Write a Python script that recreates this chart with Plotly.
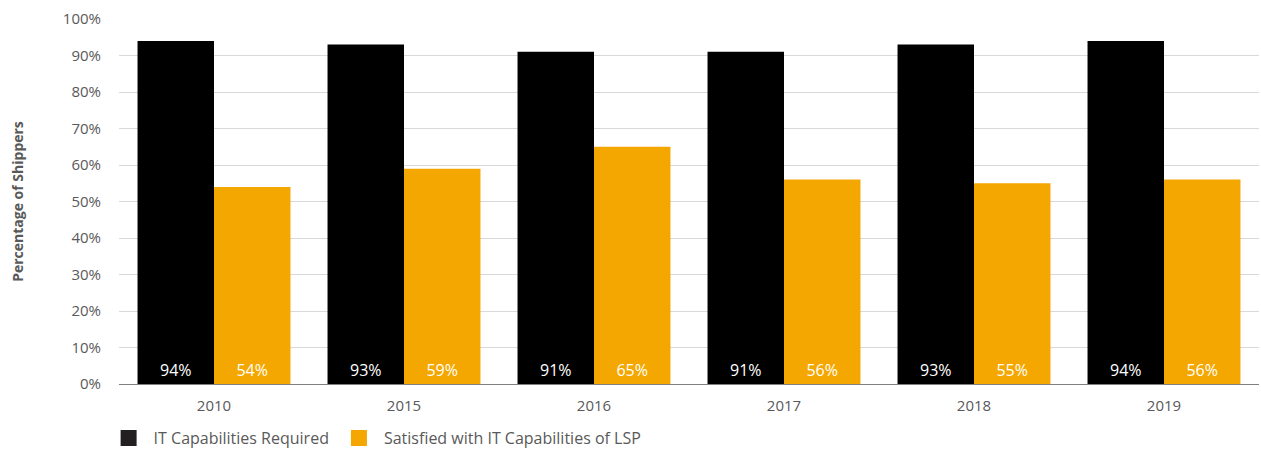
import plotly.graph_objects as go

years = ["2010", "2015", "2016", "2017", "2018", "2019"]
required = [94, 93, 91, 91, 93, 94]
satisfied = [54, 59, 65, 56, 55, 56]
series_names = ["IT Capabilities Required", "Satisfied with IT Capabilities of LSP"]
y_ticks = [0, 10, 20, 30, 40, 50, 60, 70, 80, 90, 100]

font_family = "Open Sans, Noto Sans, sans-serif"
black = "#000000"
legend_black = "#231F20"
orange = "#F4A700"

fig = go.Figure()
fig.add_trace(go.Bar(
    x=years, y=required, name=series_names[0], showlegend=False,
    marker=dict(color=black, line=dict(width=0)),
    text=[f"{v}%" for v in required], textposition="inside",
    insidetextanchor="start", textangle=0,
    textfont=dict(color="white", size=16, family=font_family),
))
fig.add_trace(go.Bar(
    x=years, y=satisfied, name=series_names[1], showlegend=False,
    marker=dict(color=orange, line=dict(width=0)),
    text=[f"{v}%" for v in satisfied], textposition="inside",
    insidetextanchor="start", textangle=0,
    textfont=dict(color="white", size=16, family=font_family),
))
# legend entries with larger square swatches
for name, col in zip(series_names, [legend_black, orange]):
    fig.add_trace(go.Scatter(
        x=[None], y=[None], mode="markers", name=name,
        marker=dict(symbol="square", size=19, color=col),
    ))

fig.update_layout(
    width=1261, height=452,
    margin=dict(l=119, r=2, t=19, b=68, autoexpand=False),
    barmode="group", bargap=0.195, bargroupgap=0,
    plot_bgcolor="white", paper_bgcolor="white",
    font=dict(family=font_family, color="#595959", size=14),
    uniformtext=dict(mode="show", minsize=16),
    showlegend=True,
    legend=dict(orientation="h", x=-0.0135, xanchor="left", y=-0.148, yanchor="middle",
                font=dict(size=16, color="#595959"), itemsizing="trace",
                traceorder="normal", itemwidth=40),
    xaxis=dict(showgrid=False, showline=True, linecolor="#7f7f7f", linewidth=1,
               ticks="outside", ticklen=8, tickcolor="rgba(0,0,0,0)",
               automargin=False,
               tickfont=dict(size=15, color="#595959")),
    yaxis=dict(range=[0, 100], tickvals=y_ticks, ticktext=[f"{v}%" for v in y_ticks],
               showgrid=True, gridcolor="#d9d9d9", gridwidth=1, zeroline=False,
               ticks="outside", ticklen=14, tickcolor="rgba(0,0,0,0)",
               automargin=False,
               tickfont=dict(size=15, color="#595959"),
               title=dict(text="<b>Percentage of Shippers</b>", standoff=35,
                          font=dict(size=14, color="#595959"))),
)

fig.write_html("out.html", config={"displayModeBar": False},
               post_script="document.body.style.margin='0';document.body.style.overflow='hidden';")
